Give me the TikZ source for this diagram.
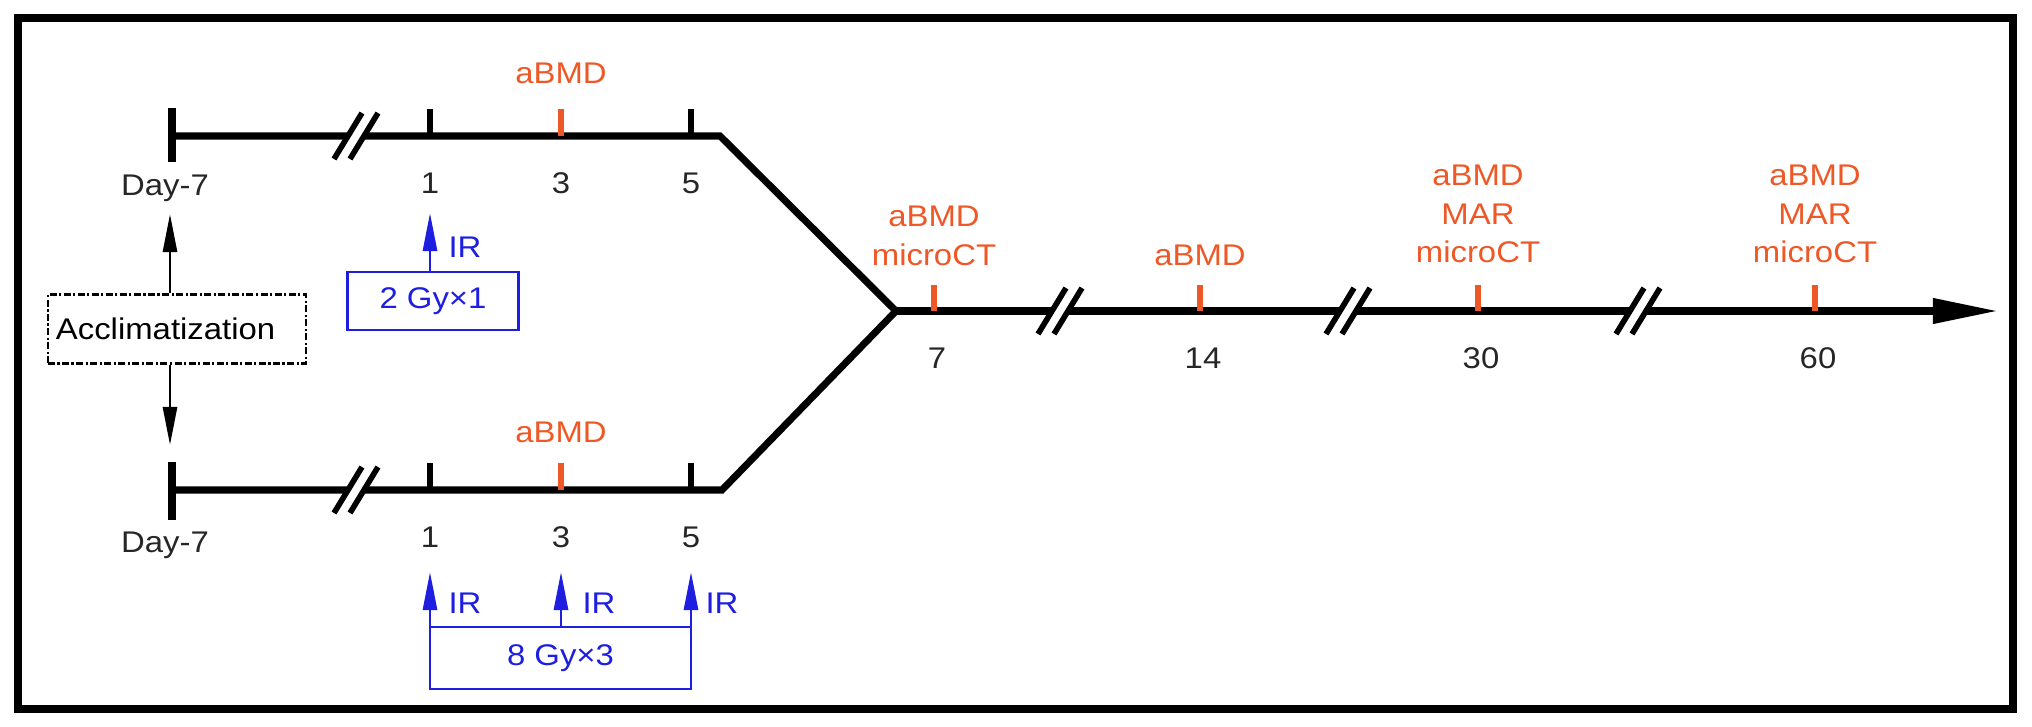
\documentclass[tikz,border=0pt]{standalone}
\usepackage{fontspec}
\setmainfont{Liberation Sans}[FakeStretch=1.1]
\usetikzlibrary{arrows.meta}
\definecolor{bmdorange}{RGB}{238,88,38}
\definecolor{irblue}{RGB}{30,30,225}
\tikzset{
  outerframe/.style={line width=2.3pt},
  tl/.style={line width=2pt},
  daytick/.style={line width=2pt},
  smalltick/.style={line width=1.6pt},
  bmdtick/.style={line width=1.9pt,bmdorange},
  brk/.style={line width=1.6pt},
  daylabel/.style={text=black!85},
  bmd/.style={text=bmdorange,align=center},
  irbox/.style={draw=irblue,line width=0.8pt,text=irblue,inner sep=0pt},
  irarrow/.style={-{Triangle[length=3.8mm,width=1.4mm]},line width=0.8pt,irblue},
  irlabel/.style={text=irblue},
  accbox/.style={draw,dash pattern=on 2pt off 0.7pt on 0.6pt off 0.7pt,line width=0.6pt,inner xsep=0.08cm},
  acarrow/.style={-{Triangle[length=3.8mm,width=1.4mm]},line width=0.8pt}
}

\begin{document}
\begin{tikzpicture}[x=0.01cm,y=-0.01cm,
  every node/.style={font=\fontsize{8.5}{11}\selectfont}]
\useasboundingbox (0,0) rectangle (2032,727);

% Outer frame
\draw[outerframe] (18,18) rectangle (2013,709);

% Points on the two arms and on the main line
\coordinate (t0) at (172,136);
\coordinate (t1) at (430,136);
\coordinate (t3) at (561,136);
\coordinate (t5) at (691,136);
\coordinate (tend) at (720,136);
\coordinate (b0) at (172,490);
\coordinate (b1) at (430,490);
\coordinate (b3) at (561,490);
\coordinate (b5) at (691,490);
\coordinate (bend) at (722,490);
\coordinate (jn) at (896,311);
\coordinate (m7) at (934,311);
\coordinate (m14) at (1200,311);
\coordinate (m30) at (1478,311);
\coordinate (m60) at (1815,311);
\coordinate (tip) at (1998,311);

% Timelines
\draw[tl] (t0) -- (tend) -- (jn);
\draw[tl] (b0) -- (bend) -- (jn);
\draw[tl,-{Triangle[length=6.5mm,width=2.4mm]}] (jn) -- (tip);

% Ticks
\draw[daytick] (t0) ++(0,-28) -- ++(0,54);
\draw[daytick] (b0) ++(0,-28) -- ++(0,58);
\draw[smalltick] (t1) -- ++(0,-27);
\draw[smalltick] (t5) -- ++(0,-27);
\draw[smalltick] (b1) -- ++(0,-27);
\draw[smalltick] (b5) -- ++(0,-27);
\draw[bmdtick] (t3) -- ++(0,-27);
\draw[bmdtick] (b3) -- ++(0,-27);
\draw[bmdtick] (m7) -- ++(0,-26);
\draw[bmdtick] (m14) -- ++(0,-26);
\draw[bmdtick] (m30) -- ++(0,-26);
\draw[bmdtick] (m60) -- ++(0,-26);

% Axis breaks
\foreach \bx/\by in {358/136,358/490,1062/311,1350/311,1640/311}{
  \fill[white] ({\bx-15},{\by+9}) -- ({\bx-4},{\by-9}) -- ({\bx+12},{\by-9}) -- ({\bx+1},{\by+9}) -- cycle;
  \draw[brk] ({\bx-24},{\by+23}) -- ({\bx+4},{\by-23});
  \draw[brk] ({\bx-8},{\by+23}) -- ({\bx+20},{\by-23});
}

% Day labels
\node[daylabel] (dt) at (165,188) {Day-7};
\node[daylabel] (nt1) at (430,183) {1};
\node[daylabel] (nt3) at (561,183) {3};
\node[daylabel] (nt5) at (691,183) {5};
\node[daylabel] (db) at (165,545) {Day-7};
\node[daylabel] (nb1) at (430,537) {1};
\node[daylabel] (nb3) at (561,537) {3};
\node[daylabel] (nb5) at (691,537) {5};
\node[daylabel] (n7) at (937,358) {7};
\node[daylabel] (n14) at (1203,358) {14};
\node[daylabel] (n30) at (1481,358) {30};
\node[daylabel] (n60) at (1818,358) {60};

% Measurements
\node[bmd] (bt3) at (561,73) {aBMD};
\node[bmd] (bb3) at (561,432) {aBMD};
\node[bmd] (b7) at (934,236) {aBMD\\microCT};
\node[bmd] (b14) at (1200,255) {aBMD};
\node[bmd] (b30) at (1478,214) {aBMD\\MAR\\microCT};
\node[bmd] (b60) at (1815,214) {aBMD\\MAR\\microCT};

% Acclimatization
\node[accbox,minimum width=2.58cm,minimum height=0.69cm,text width=2.42cm,align=left] (acc) at (177,329) {Acclimatization};
\coordinate (ua) at (170,214);
\coordinate (da) at (170,445);
\draw[acarrow] (acc.north -| ua) -- (ua);
\draw[acarrow] (acc.south -| da) -- (da);

% Irradiation, upper arm
\node[irbox,minimum width=1.71cm,minimum height=0.58cm] (gy1) at (433,301) {2 Gy×1};
\coordinate (a1) at (430,213);
\draw[irarrow] (gy1.north -| a1) -- (a1);
\node[irlabel] (ir1) at (465,247) {IR};

% Irradiation, lower arm
\node[irbox,minimum width=2.61cm,minimum height=0.62cm] (gy3) at (560.5,658) {8 Gy×3};
\coordinate (a1b) at (430,572);
\coordinate (a3b) at (561,572);
\coordinate (a5b) at (691,572);
\draw[irarrow] (gy3.north -| a1b) -- (a1b);
\draw[irarrow] (gy3.north -| a3b) -- (a3b);
\draw[irarrow] (gy3.north -| a5b) -- (a5b);
\node[irlabel] (irb1) at (465,603) {IR};
\node[irlabel] (irb3) at (599,603) {IR};
\node[irlabel] (irb5) at (722,603) {IR};

\end{tikzpicture}
\end{document}
